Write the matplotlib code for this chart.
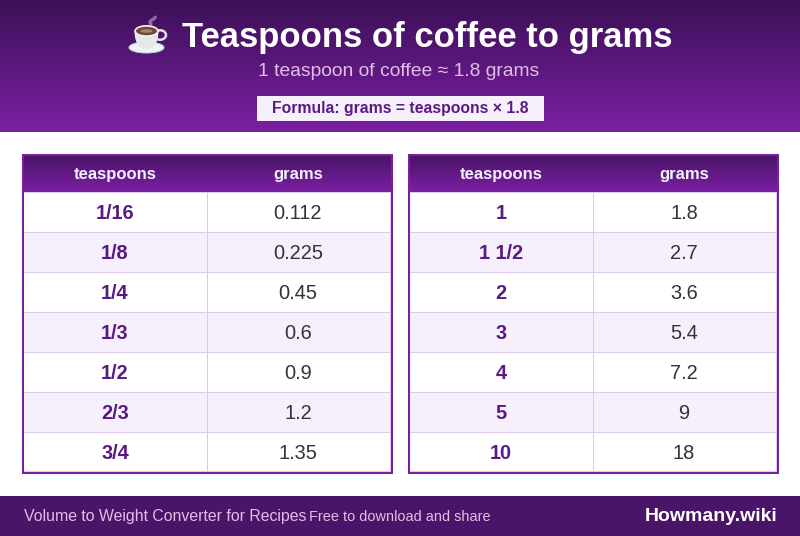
import numpy as np
import matplotlib
matplotlib.use("Agg")
import matplotlib.pyplot as plt
from matplotlib.patches import Rectangle, Ellipse, PathPatch
from matplotlib.path import Path

plt.rcParams['font.family'] = ['Liberation Sans', 'DejaVu Sans']
plt.rcParams['image.composite_image'] = False

title = "Teaspoons of coffee to grams"
subtitle = "1 teaspoon of coffee ≈ 1.8 grams"
formula = "Formula: grams = teaspoons × 1.8"
col_names = ["teaspoons", "grams"]
left_tsp = ["1/16", "1/8", "1/4", "1/3", "1/2", "2/3", "3/4"]
left_grams = ["0.112", "0.225", "0.45", "0.6", "0.9", "1.2", "1.35"]
right_tsp = ["1", "1 1/2", "2", "3", "4", "5", "10"]
right_grams = ["1.8", "2.7", "3.6", "5.4", "7.2", "9", "18"]
footer_left = "Volume to Weight Converter for Recipes"
footer_mid = "Free to download and share"
footer_right = "Howmany.wiki"

DARK = "#4a1569"
PURPLE = "#7b1fa2"
TEXT_PURPLE = "#5b1a82"
LINE = "#dcc8ec"
ZEBRA = "#f5f0fb"
INK = "#333333"


def px(n):
    return n * 0.72


def box(ax, x0, y0, w, h, color, z):
    ax.add_patch(Rectangle((x0, y0), w, h, fc=color, ec="none", zorder=z, snap=True))


def label(ax, x, y, s, size, color, weight="normal", ha="center"):
    ax.text(x, y, s, fontsize=px(size), fontweight=weight, color=color, ha=ha, va="baseline", zorder=5)


def gradient(ax, x0, x1, y0, y1, top, bottom):
    c = matplotlib.colors.LinearSegmentedColormap.from_list("g", [top, bottom])
    rows = np.linspace(0, 1, int(y1 - y0)).reshape(-1, 1)
    ax.imshow(rows, cmap=c, aspect="auto", extent=(x0, x1, y1, y0), zorder=1.5, interpolation="nearest")


def draw_table(ax, x0, tsp, grams):
    w = 371
    mid = x0 + 185
    box(ax, x0, 154, w, 320, "white", 1)
    gradient(ax, x0, x0 + w, 156, 192, "#4a1569", PURPLE)
    for i in range(len(tsp)):
        top = 192 + i * 40
        if i % 2 == 1:
            box(ax, x0 + 2, top, w - 4, 40, ZEBRA, 2)
        box(ax, x0 + 2, top + 40 if i < 6 else top + 39, w - 4, 1, LINE, 3)
        label(ax, x0 + 93, top + 27, tsp[i], 20, TEXT_PURPLE, "bold")
        label(ax, mid + 91, top + 27, grams[i], 20, INK)
    box(ax, mid, 192, 1, 280, LINE, 3)
    box(ax, x0 + w - 3, 192, 1, 280, LINE, 3)
    box(ax, x0 + 2, 192, w - 4, 1, LINE, 3)
    label(ax, x0 + 93, 179, col_names[0], 16.6, "#f5f0fb", "bold")
    label(ax, mid + 91, 179, col_names[1], 16.6, "#f5f0fb", "bold")
    box(ax, x0, 154, w, 2, PURPLE, 6)
    box(ax, x0, 472, w, 2, PURPLE, 6)
    box(ax, x0, 154, 2, 320, PURPLE, 6)
    box(ax, x0 + w - 2, 154, 2, 320, PURPLE, 6)


def draw_cup(ax):
    # the emoji is drawn by hand, no colour emoji font is installed
    steam = Path([(152, 25), (148, 22), (152, 20), (156, 18), (155, 16)],
                 [Path.MOVETO, Path.CURVE3, Path.CURVE3, Path.CURVE3, Path.CURVE3])
    ax.add_patch(PathPatch(steam, fc="none", ec="#8d6aa6", lw=2.4, zorder=4))
    ax.add_patch(Ellipse((146.5, 47.5), 35, 11, fc="#eef3f3", ec="#a8dcdc", lw=0.7, zorder=4))
    ax.add_patch(Ellipse((160, 35), 12, 9.5, fc="none", ec="#dfe3e3", lw=1.8, zorder=4))
    cup = Path([(134.5, 31), (134.5, 45), (141, 49), (146.5, 49), (152, 49), (158.5, 45), (158.5, 31), (134.5, 31)],
               [Path.MOVETO, Path.CURVE4, Path.CURVE4, Path.CURVE4, Path.CURVE4, Path.CURVE4, Path.CURVE4,
                Path.CLOSEPOLY])
    ax.add_patch(PathPatch(cup, fc="#e6e8e8", ec="none", zorder=5))
    ax.add_patch(Ellipse((146.5, 31), 24.5, 12, fc="#f4f4f4", ec="none", zorder=6))
    ax.add_patch(Ellipse((146.5, 31), 21, 8.5, fc="#6e4a3e", ec="none", zorder=7))
    ax.add_patch(Ellipse((146.5, 31), 12, 3.5, fc="#a98472", ec="none", zorder=8))


fig = plt.figure(figsize=(8, 5.36), dpi=100)
ax = fig.add_axes([0, 0, 1, 1])
ax.axis("off")

# header
gradient(ax, 0, 800, 0, 132, "#3c1057", PURPLE)
draw_cup(ax)
label(ax, 427, 46.5, title, 34.6, "white", "bold")
label(ax, 399, 76.5, subtitle, 19.3, "#e1bee7")
box(ax, 257, 96, 287, 25, ZEBRA, 4)
label(ax, 400.5, 113, formula, 15.75, TEXT_PURPLE, "bold")

# tables
draw_table(ax, 22, left_tsp, left_grams)
draw_table(ax, 408, right_tsp, right_grams)

# footer
box(ax, 0, 496, 800, 40, DARK, 2)
label(ax, 24, 521, footer_left, 15.95, "#e1bee7", ha="left")
label(ax, 309, 521, footer_mid, 14.5, "#e1bee7", ha="left")
label(ax, 778, 521, footer_right, 19.5, "white", "bold", ha="right")

ax.set_xlim(0, 800)
ax.set_ylim(536, 0)
fig.savefig("out.png", dpi=100)
